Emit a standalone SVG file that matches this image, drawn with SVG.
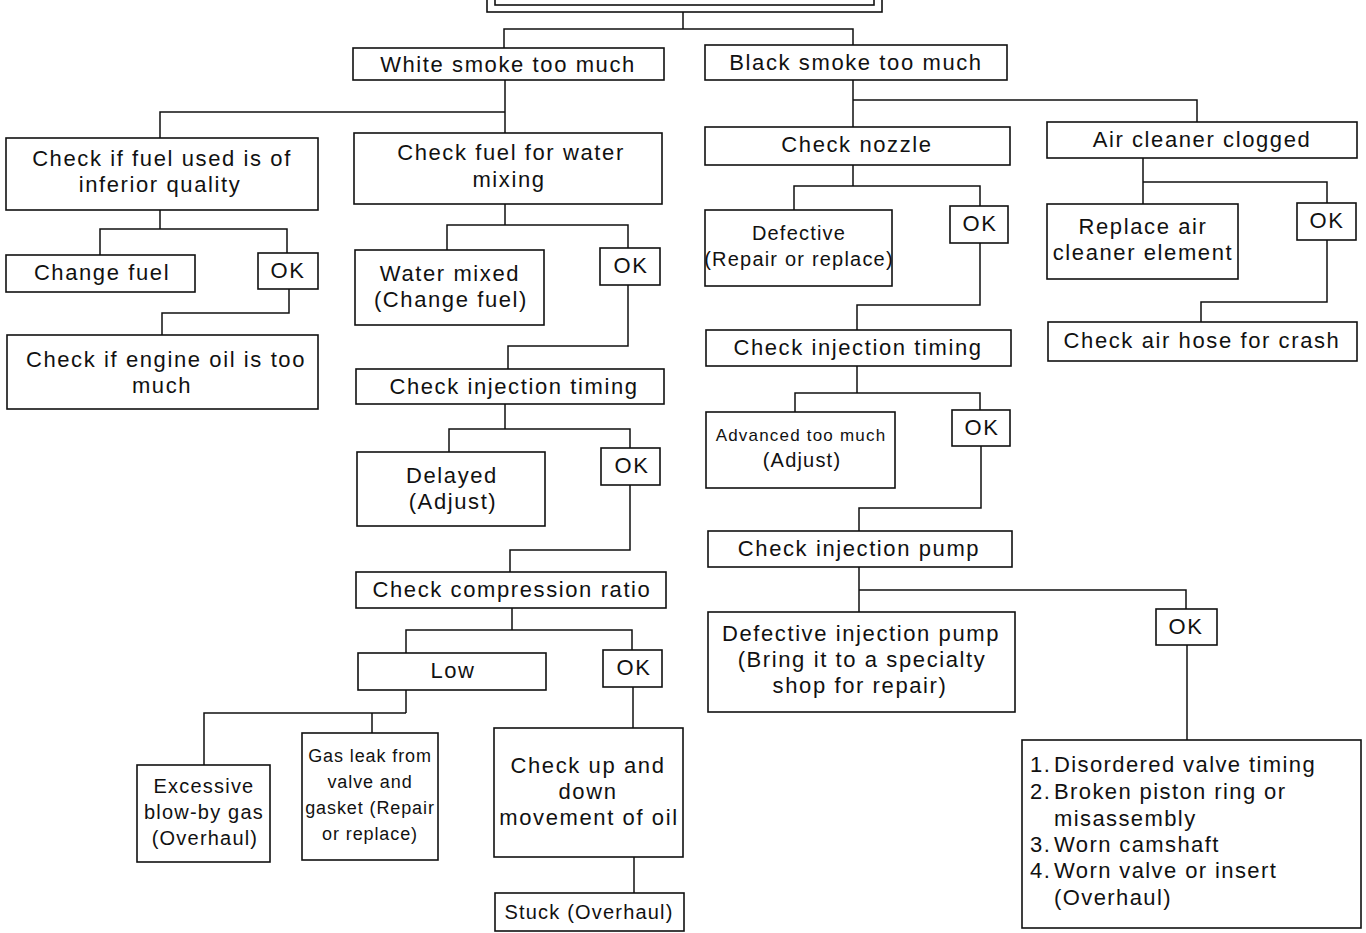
<svg xmlns="http://www.w3.org/2000/svg" width="1366" height="933" viewBox="0 0 1366 933">
<style>
.box{fill:#fff;stroke:#111;stroke-width:1.6}
.ln{fill:none;stroke:#111;stroke-width:1.5}
text{font-family:"Liberation Sans",Arial,sans-serif;fill:#111}
.t{font-size:22px;letter-spacing:1.6px;text-anchor:middle}
.m{font-size:20px;letter-spacing:1.2px;text-anchor:middle}
.s{font-size:18px;letter-spacing:0.9px;text-anchor:middle}
.xs{font-size:17px;letter-spacing:1.2px;text-anchor:middle}
.l{font-size:22px;letter-spacing:1.4px}
</style>
<rect width="1366" height="933" fill="#fff"/>
<g id="connectors" class="ln">
<path d="M683 12V29M504 48V29H853V45"/>
<path d="M505 80V112M160 138V112H505V133"/>
<path d="M160 210V229M100 255V229H287V253"/>
<path d="M289 289V313H162V335"/>
<path d="M505 204V225M447 250V225H628V248"/>
<path d="M628 285V346H508V369"/>
<path d="M505 404V429M449 452V429H630V448"/>
<path d="M630 485V550H510V572"/>
<path d="M512 608V630M406 653V630H632V650"/>
<path d="M406 690V713M204 765V713H406M372 713V733"/>
<path d="M633 687V728"/>
<path d="M634 857V893"/>
<path d="M853 80V100H1197V122M853 100V127"/>
<path d="M853 165V186M794 210V186H980V206"/>
<path d="M980 243V305H857V330"/>
<path d="M857 366V393M795 412V393H980V410"/>
<path d="M981 446V508H859V531"/>
<path d="M859 567V612M859 590H1186V609"/>
<path d="M1187 645V740"/>
<path d="M1143 158V182M1143 204V182H1327V203"/>
<path d="M1327 240V302H1201V322"/>
</g>
<g id="top">
<rect class="box" x="487" y="-20" width="395" height="32" stroke-width="2"/>
<rect class="box" x="495" y="-20" width="379" height="25" stroke-width="2"/>
</g>
<g id="white-smoke"><rect class="box" x="353" y="48" width="311" height="32"/><text class="t" x="508" y="72">White smoke too much</text></g>
<g id="black-smoke"><rect class="box" x="705" y="45" width="302" height="35"/><text class="t" x="856" y="70">Black smoke too much</text></g>
<g id="fuel-quality"><rect class="box" x="6" y="138" width="312" height="72"/><text class="t" x="162" y="166">Check if fuel used is of</text><text class="t" x="160" y="192">inferior quality</text></g>
<g id="fuel-water"><rect class="box" x="354" y="133" width="308" height="71"/><text class="t" x="511" y="160">Check fuel for water</text><text class="t" x="509" y="187">mixing</text></g>
<g id="change-fuel"><rect class="box" x="6" y="255" width="189" height="37"/><text class="t" x="102" y="280">Change fuel</text></g>
<g id="ok1"><rect class="box" x="258" y="253" width="60" height="36"/><text class="t" x="288" y="278">OK</text></g>
<g id="engine-oil"><rect class="box" x="7" y="335" width="311" height="74"/><text class="t" x="166" y="367">Check if engine oil is too</text><text class="t" x="162" y="393">much</text></g>
<g id="water-mixed"><rect class="box" x="355" y="250" width="189" height="75"/><text class="t" x="450" y="281">Water mixed</text><text class="t" x="451" y="307">(Change fuel)</text></g>
<g id="ok2"><rect class="box" x="600" y="248" width="60" height="37"/><text class="t" x="631" y="273">OK</text></g>
<g id="inj-timing-l"><rect class="box" x="356" y="369" width="308" height="35"/><text class="t" x="514" y="394">Check injection timing</text></g>
<g id="delayed"><rect class="box" x="357" y="452" width="188" height="74"/><text class="t" x="452" y="483">Delayed</text><text class="t" x="453" y="509">(Adjust)</text></g>
<g id="ok3"><rect class="box" x="601" y="448" width="59" height="37"/><text class="t" x="632" y="473">OK</text></g>
<g id="compression"><rect class="box" x="356" y="572" width="310" height="36"/><text class="t" x="512" y="597">Check compression ratio</text></g>
<g id="low"><rect class="box" x="358" y="653" width="188" height="37"/><text class="t" x="453" y="678">Low</text></g>
<g id="ok4"><rect class="box" x="603" y="650" width="59" height="37"/><text class="t" x="634" y="675">OK</text></g>
<g id="blowby"><rect class="box" x="137" y="765" width="133" height="97"/><text class="m" x="204" y="793">Excessive</text><text class="m" x="204" y="819">blow-by gas</text><text class="m" x="205" y="845">(Overhaul)</text></g>
<g id="gas-leak"><rect class="box" x="302" y="733" width="136" height="127"/><text class="s" x="370" y="762">Gas leak from</text><text class="s" x="370" y="788">valve and</text><text class="s" x="370" y="814">gasket (Repair</text><text class="s" x="370" y="840">or replace)</text></g>
<g id="oil-movement"><rect class="box" x="494" y="728" width="189" height="129"/><text class="t" x="588" y="773">Check up and</text><text class="t" x="588" y="799">down</text><text class="t" x="589" y="825">movement of oil</text></g>
<g id="stuck"><rect class="box" x="495" y="893" width="189" height="38"/><text class="m" x="589" y="919">Stuck (Overhaul)</text></g>
<g id="nozzle"><rect class="box" x="705" y="127" width="305" height="38"/><text class="t" x="857" y="152">Check nozzle</text></g>
<g id="air-cleaner"><rect class="box" x="1047" y="122" width="310" height="36"/><text class="t" x="1202" y="147">Air cleaner clogged</text></g>
<g id="defective-nozzle"><rect class="box" x="705" y="210" width="187" height="76"/><text class="m" x="799" y="240">Defective</text><text class="m" x="799" y="266">(Repair or replace)</text></g>
<g id="ok5"><rect class="box" x="950" y="206" width="58" height="37"/><text class="t" x="980" y="231">OK</text></g>
<g id="inj-timing-r"><rect class="box" x="706" y="330" width="305" height="36"/><text class="t" x="858" y="355">Check injection timing</text></g>
<g id="advanced"><rect class="box" x="706" y="412" width="189" height="76"/><text class="xs" x="801" y="441">Advanced too much</text><text class="m" x="802" y="467">(Adjust)</text></g>
<g id="ok6"><rect class="box" x="952" y="410" width="58" height="36"/><text class="t" x="982" y="435">OK</text></g>
<g id="inj-pump"><rect class="box" x="708" y="531" width="304" height="36"/><text class="t" x="859" y="556">Check injection pump</text></g>
<g id="defective-pump"><rect class="box" x="708" y="612" width="307" height="100"/><text class="t" x="861" y="641">Defective injection pump</text><text class="t" x="862" y="667">(Bring it to a specialty</text><text class="t" x="860" y="693">shop for repair)</text></g>
<g id="ok7"><rect class="box" x="1156" y="609" width="61" height="36"/><text class="t" x="1186" y="634">OK</text></g>
<g id="causes"><rect class="box" x="1022" y="740" width="339" height="188"/>
<text class="l" x="1030" y="772">1.</text><text class="l" x="1054" y="772">Disordered valve timing</text>
<text class="l" x="1030" y="799">2.</text><text class="l" x="1054" y="799">Broken piston ring or</text>
<text class="l" x="1054" y="826">misassembly</text>
<text class="l" x="1030" y="852">3.</text><text class="l" x="1054" y="852">Worn camshaft</text>
<text class="l" x="1030" y="878">4.</text><text class="l" x="1054" y="878">Worn valve or insert</text>
<text class="l" x="1054" y="905">(Overhaul)</text></g>
<g id="replace-air"><rect class="box" x="1047" y="204" width="191" height="75"/><text class="t" x="1143" y="234">Replace air</text><text class="t" x="1143" y="260">cleaner element</text></g>
<g id="ok8"><rect class="box" x="1297" y="203" width="59" height="37"/><text class="t" x="1327" y="228">OK</text></g>
<g id="air-hose"><rect class="box" x="1048" y="322" width="309" height="39"/><text class="t" x="1202" y="348">Check air hose for crash</text></g>
</svg>
